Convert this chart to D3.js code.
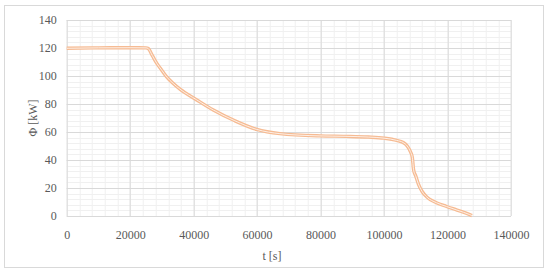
<!DOCTYPE html>
<html>
<head>
<meta charset="utf-8">
<script src="https://cdn.jsdelivr.net/npm/d3@7"></script>
<style>
  body { margin: 0; background: #fff; }
  text { font-family: "Liberation Serif", "DejaVu Serif", serif; fill: #595959; }
</style>
</head>
<body>
<div id="chart"></div>
<script>
// time [s] and heat flow [kW]
var tValues = [0, 10000, 20000, 25000, 25700, 27000, 28400, 30000, 31500, 33500,
  35700, 41000, 46200, 53000, 59900, 67200, 79800, 88000,
  95000, 100000, 104000, 106000, 107300, 108300, 108900, 109300, 110000,
  110800, 112000, 113500, 116500, 119700, 123000, 127000, 127700];
var phiValues = [119.8, 120.1, 120.2, 120.1, 119.6, 114.5, 109, 104, 99.4, 94.8,
  90.6, 82.9, 75.7, 68, 61.8, 58.8, 57.2, 56.9,
  56.4, 55.6, 54, 52.5, 50, 46, 42, 33, 28.5,
  23, 17.5, 13.5, 9.5, 6.8, 4.2, 1, 0.3];
var xTicks = [0, 20000, 40000, 60000, 80000, 100000, 120000, 140000];
var yTicks = [0, 20, 40, 60, 80, 100, 120, 140];

var data = tValues.map(function(t, i) { return { t: t, phi: phiValues[i] }; });

var svgWidth = 550;
var svgHeight = 276;
var margin = { top: 20, right: 39, bottom: 60, left: 66.7 };
var width = 511 - margin.left;
var height = 216 - margin.top;

var svg = d3.select("#chart")
  .append("svg")
  .attr("width", svgWidth)
  .attr("height", svgHeight);

// outer chart border
svg.append("rect")
  .attr("x", 4.5).attr("y", 5.5)
  .attr("width", 539).attr("height", 262)
  .attr("fill", "none")
  .attr("stroke", "#d9d9d9");

var chartGroup = svg.append("g")
  .attr("transform", `translate(${margin.left}, ${margin.top})`);

var xScale = d3.scaleLinear().domain([0, 140000]).range([0, width]);
var yScale = d3.scaleLinear().domain([0, 140]).range([height, 0]);

// minor gridlines
chartGroup.append("g")
  .selectAll("line")
  .data(d3.range(0, 140001, 4000))
  .enter().append("line")
  .attr("x1", d => Math.round(xScale(d)) + 0.5).attr("x2", d => Math.round(xScale(d)) + 0.5)
  .attr("y1", 0).attr("y2", height)
  .attr("stroke", "#f0f0f0");

chartGroup.append("g")
  .selectAll("line")
  .data(d3.range(0, 141, 4))
  .enter().append("line")
  .attr("y1", d => Math.round(yScale(d)) + 0.5).attr("y2", d => Math.round(yScale(d)) + 0.5)
  .attr("x1", 0).attr("x2", width)
  .attr("stroke", "#f0f0f0");

// major gridlines
chartGroup.append("g")
  .selectAll("line")
  .data(xTicks)
  .enter().append("line")
  .attr("x1", d => Math.round(xScale(d)) + 0.5).attr("x2", d => Math.round(xScale(d)) + 0.5)
  .attr("y1", 0).attr("y2", height)
  .attr("stroke", "#d9d9d9");

chartGroup.append("g")
  .selectAll("line")
  .data(yTicks)
  .enter().append("line")
  .attr("y1", d => Math.round(yScale(d)) + 0.5).attr("y2", d => Math.round(yScale(d)) + 0.5)
  .attr("x1", 0).attr("x2", width)
  .attr("stroke", "#d9d9d9");

// axes (labels only)
var xAxis = chartGroup.append("g")
  .attr("transform", `translate(0, ${height})`)
  .call(d3.axisBottom(xScale).tickValues(xTicks).tickSize(0).tickPadding(14).tickFormat(d3.format("d")));
var yAxis = chartGroup.append("g")
  .call(d3.axisLeft(yScale).tickValues(yTicks).tickSize(0).tickPadding(10).tickFormat(d3.format("d")));
[xAxis, yAxis].forEach(function(a) {
  a.select(".domain").remove();
  a.selectAll("text").attr("font-size", 12).attr("fill", "#6b6b6b")
    .style("font-family", "'Liberation Serif', 'DejaVu Serif', serif");
});

// the curve, drawn as a double line
var line = d3.line()
  .x(d => xScale(d.t))
  .y(d => yScale(d.phi))
  .curve(d3.curveMonotoneX);

chartGroup.append("path")
  .datum(data)
  .attr("d", line)
  .attr("fill", "none")
  .attr("stroke", "#f6bb93")
  .attr("stroke-width", 3.4);

chartGroup.append("path")
  .datum(data)
  .attr("d", line)
  .attr("fill", "none")
  .attr("stroke", "#fdf0e7")
  .attr("stroke-width", 1);

// axis titles
svg.append("text")
  .attr("transform", "translate(37, 118) rotate(-90)")
  .attr("text-anchor", "middle")
  .attr("font-size", 12)
  .attr("fill", "#6b6b6b")
  .text("Φ [kW]");

svg.append("text")
  .attr("x", 272)
  .attr("y", 260)
  .attr("text-anchor", "middle")
  .attr("font-size", 12)
  .attr("fill", "#6b6b6b")
  .text("t [s]");
</script>
</body>
</html>
